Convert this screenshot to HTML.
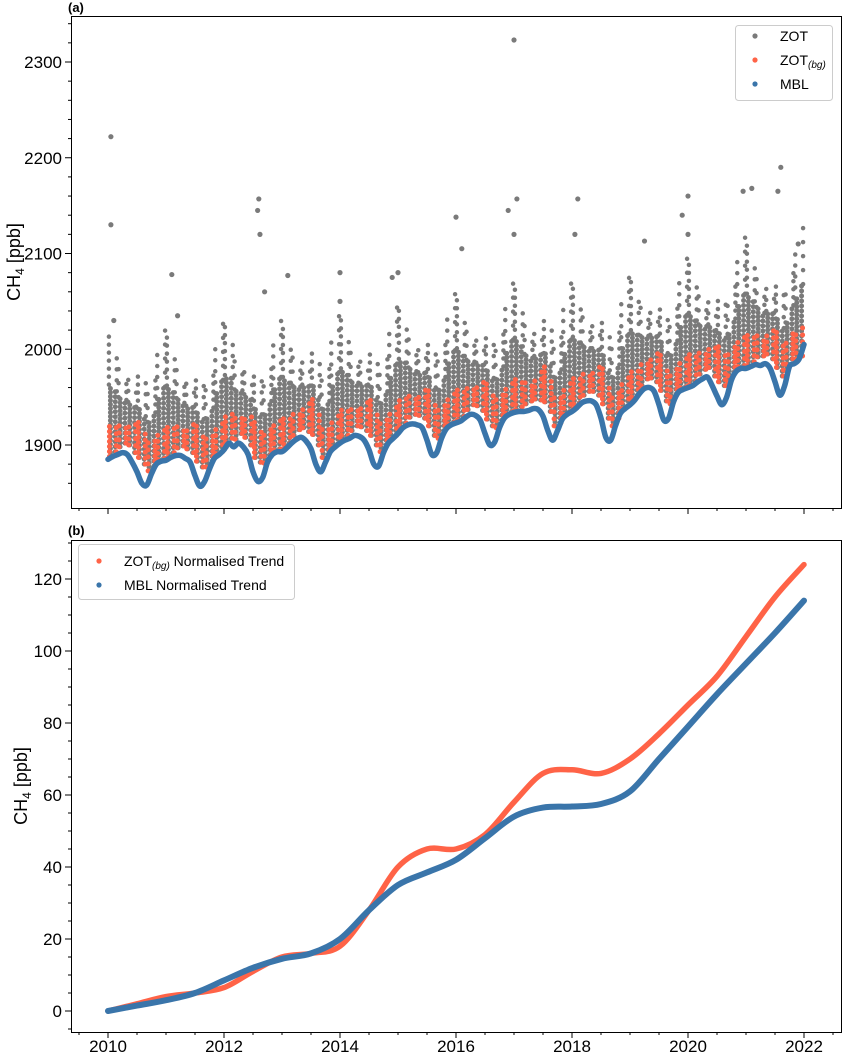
<!DOCTYPE html>
<html><head><meta charset="utf-8"><style>
body{margin:0;background:#fff}
svg{display:block;font-family:"Liberation Sans",sans-serif}
</style></head><body>
<svg id="c" width="843" height="1055"></svg>
<script>
// ---- data ----
const years=[2010,2012,2014,2016,2018,2020,2022];
const topTicks=[1900,2000,2100,2200,2300];
const botTicks=[0,20,40,60,80,100,120];
// MBL monthly values (Jan..Dec per year), plus end value
const mbl=[
1885,1888,1890,1892,1890,1882,1872,1860,1858,1870,1880,1883,
1884,1887,1889,1889,1886,1882,1868,1857,1862,1875,1886,1890,
1895,1902,1898,1902,1898,1890,1872,1862,1866,1882,1890,1893,
1893,1897,1902,1906,1908,1904,1896,1880,1872,1882,1893,1898,
1902,1905,1907,1910,1909,1905,1895,1880,1878,1892,1902,1907,
1912,1918,1921,1922,1921,1918,1905,1890,1892,1907,1917,1921,
1923,1925,1929,1932,1931,1926,1912,1900,1903,1918,1928,1932,
1934,1935,1935,1936,1938,1937,1930,1915,1905,1915,1927,1932,
1935,1939,1944,1946,1946,1942,1928,1908,1905,1920,1933,1938,
1942,1947,1954,1959,1960,1956,1942,1926,1928,1945,1955,1958,
1960,1962,1966,1969,1971,1962,1951,1942,1950,1968,1977,1980,
1980,1982,1984,1983,1985,1980,1966,1952,1962,1982,1985,1990,
2005];
// ZOT(bg) monthly low/high offsets above MBL (seasonal pattern)
const bgLowOff=[3,5,8,10,10,10,15,20,15,8,5,3];
const bgHighOff=[38,32,30,30,35,42,52,55,45,38,36,38];
// ZOT monthly core-top and sparse-top offsets above MBL
const zotMidOff=[78,68,60,55,55,58,66,70,66,64,68,78];
const zotHighOff=[130,110,90,80,78,80,100,110,100,100,120,140];
// ZOT outliers [year, ppb]
const spikes=[[2010.05,2222],[2010.05,2130],[2010.1,2030],[2011.1,2078],[2011.2,2035],[2012.6,2157],[2012.58,2145],[2012.62,2120],[2012.7,2060],[2013.1,2077],[2014.0,2080],[2014.0,2050],[2015.0,2080],[2016.0,2138],[2016.1,2105],[2017.0,2323],[2016.9,2145],[2017.05,2157],[2017.0,2120],[2018.1,2157],[2018.05,2120],[2019.25,2113],[2020.0,2160],[2020.0,2120],[2020.95,2165],[2021.1,2168],[2021.6,2190],[2021.55,2165],[2021.9,2110],[2014.9,2075],[2019.9,2140]];
// normalised trends (half-yearly)
const trendYears=[2010,2010.5,2011,2011.5,2012,2012.5,2013,2013.5,2014,2014.5,2015,2015.5,2016,2016.5,2017,2017.5,2018,2018.5,2019,2019.5,2020,2020.5,2021,2021.5,2022];
const bgTrend=[0,2,4,5,6.5,11,15,16,18,28,40,45,45,49,58,66,67,66,70,77,85,93,104,115,124];
const mblTrend=[0,1.5,3,5,8.5,12,14.5,16,20,28,35,38.5,42,48,54,56.5,56.8,57.5,61,70,79,88,96.5,105,114];

// ---- drawing ----
const S=document.getElementById('c'),NS='http://www.w3.org/2000/svg';
function el(t,a,p){const e=document.createElementNS(NS,t);for(const k in a)e.setAttribute(k,a[k]);(p||S).appendChild(e);return e;}
const X=y=>108+(y-2010)*58;
const YT=v=>445-(v-1900)*0.9575;
const YB=v=>1011-v*3.6;
function smooth(pts){let d='M'+pts[0][0]+','+pts[0][1];for(let i=0;i<pts.length-1;i++){const p0=pts[Math.max(0,i-1)],p1=pts[i],p2=pts[i+1],p3=pts[Math.min(pts.length-1,i+2)];d+=' C'+(p1[0]+(p2[0]-p0[0])/6)+','+(p1[1]+(p2[1]-p0[1])/6)+' '+(p2[0]-(p3[0]-p1[0])/6)+','+(p2[1]-(p3[1]-p1[1])/6)+' '+p2[0]+','+p2[1];}return d;}
const GRAY='#7a7a7a',OR='#ff6347',BL='#3a75aa';

// top panel
const gT=el('g',{});


for(let i=0;i<144;i++){
  const t=2010+(i+0.5)/12,m=i%12,x=X(t),b=mbl[i];
  const g=el('line',{x1:x,x2:x,y1:YT(b+bgLowOff[m]),y2:YT(b+zotMidOff[m]),stroke:GRAY,'stroke-width':5,'stroke-linecap':'round','stroke-dasharray':'0 '+(4+(i%2))},gT);
  
  
  const u=el('line',{x1:x+(i%2?1.5:-1.5),x2:x+(i%2?1.5:-1.5),y1:YT(b+zotMidOff[m]),y2:YT(b+zotHighOff[m]),stroke:GRAY,'stroke-width':4.5,'stroke-linecap':'round','stroke-dasharray':'0 '+(8+(i%3)*3)},gT);
  
  
}
spikes.forEach(s=>{const c=el('circle',{cx:X(s[0]),cy:YT(s[1]),r:2.6,fill:GRAY},gT);
  
  });
for(let i=0;i<144;i++){
  const t=2010+(i+0.5)/12,m=i%12,x=X(t)+(i%2?1:-1),b=mbl[i];
  const o=el('line',{x1:x,x2:x,y1:YT(b+bgLowOff[m]),y2:YT(b+bgHighOff[m]),stroke:OR,'stroke-width':5,'stroke-linecap':'round','stroke-dasharray':'0 '+(5+(i%3))},gT);
  
  
}
const mp=el('path',{d:smooth(mbl.map((v,i)=>[X(2010+i/12),YT(v)])),fill:'none',stroke:BL,'stroke-width':5.5,'stroke-linecap':'round'},gT);



// bottom panel
const bp=el('path',{d:smooth(trendYears.map((y,i)=>[X(y),YB(bgTrend[i])])),fill:'none',stroke:OR,'stroke-width':5.5,'stroke-linecap':'round'});


const mb=el('path',{d:smooth(trendYears.map((y,i)=>[X(y),YB(mblTrend[i])])),fill:'none',stroke:BL,'stroke-width':6,'stroke-linecap':'round'});



// axes frames
[[16,508,'panel-a-frame'],[540,1032,'panel-b-frame']].forEach(f=>{
  const r=el('rect',{x:71.5,y:f[0]+.5,width:770,height:f[1]-f[0],fill:'none',stroke:'#000','stroke-width':1});
  
  
});
// x ticks
for(let y=2009.5;y<=2022.5;y+=0.5){
  const major=years.includes(y);
  [508,1032].forEach(b=>el('line',{x1:X(y),x2:X(y),y1:b,y2:b+(major?6:3),stroke:'#000'}));
}
years.forEach(y=>{const t=el('text',{x:X(y),y:1052,'text-anchor':'middle','font-size':17},S);t.textContent=y;
  
  });
// top y ticks
for(let v=1860;v<=2340;v+=20){const y=YT(v);if(y<16||y>508)continue;
  el('line',{x1:71,x2:topTicks.includes(v)?65:68,y1:y,y2:y,stroke:'#000'});}
topTicks.forEach(v=>{const t=el('text',{x:62,y:YT(v)+6,'text-anchor':'end','font-size':17});t.textContent=v;
  
  });
for(let v=-5;v<=130;v+=5){const y=YB(v);if(y<540||y>1032)continue;
  el('line',{x1:71,x2:botTicks.includes(v)?65:68,y1:y,y2:y,stroke:'#000'});}
botTicks.forEach(v=>{const t=el('text',{x:62,y:YB(v)+6,'text-anchor':'end','font-size':17});t.textContent=v;
  
  });
</script>
<svg width="843" height="1055" style="position:absolute;left:0;top:0">
<text x="68" y="12" font-size="13" font-weight="bold" font-family="Liberation Sans,sans-serif">(a)</text>
<text x="68" y="535" font-size="13" font-weight="bold" font-family="Liberation Sans,sans-serif">(b)</text>
<text transform="translate(20,262) rotate(-90)" text-anchor="middle" font-size="18" font-family="Liberation Sans,sans-serif">CH<tspan font-size="12" dy="4">4</tspan><tspan dy="-4"> [ppb]</tspan></text>
<text transform="translate(27,786) rotate(-90)" text-anchor="middle" font-size="18" font-family="Liberation Sans,sans-serif">CH<tspan font-size="12" dy="4">4</tspan><tspan dy="-4"> [ppb]</tspan></text>
<g font-family="Liberation Sans,sans-serif" font-size="14">
<rect x="735.5" y="25.5" width="97" height="75" rx="3" fill="#fff" stroke="#ccc"/>
<circle cx="755" cy="36" r="2.6" fill="#7a7a7a"/><text x="780" y="41">ZOT</text>
<circle cx="755" cy="60" r="2.6" fill="#ff6347"/><text x="780" y="65">ZOT<tspan font-size="10" font-style="italic" dy="3">(bg)</tspan></text>
<circle cx="755" cy="84" r="2.6" fill="#3a75aa"/><text x="780" y="89">MBL</text>
</g>
<g font-family="Liberation Sans,sans-serif" font-size="14">
<rect x="78.5" y="544.5" width="216" height="55" rx="3" fill="#fff" stroke="#ccc"/>
<circle cx="99" cy="561" r="2.6" fill="#ff6347"/><text x="124" y="566">ZOT<tspan font-size="10" font-style="italic" dy="3">(bg)</tspan><tspan dy="-3"> Normalised Trend</tspan></text>
<circle cx="99" cy="585" r="2.6" fill="#3a75aa"/><text x="124" y="590">MBL Normalised Trend</text>
</g>
</svg>
</body></html>
